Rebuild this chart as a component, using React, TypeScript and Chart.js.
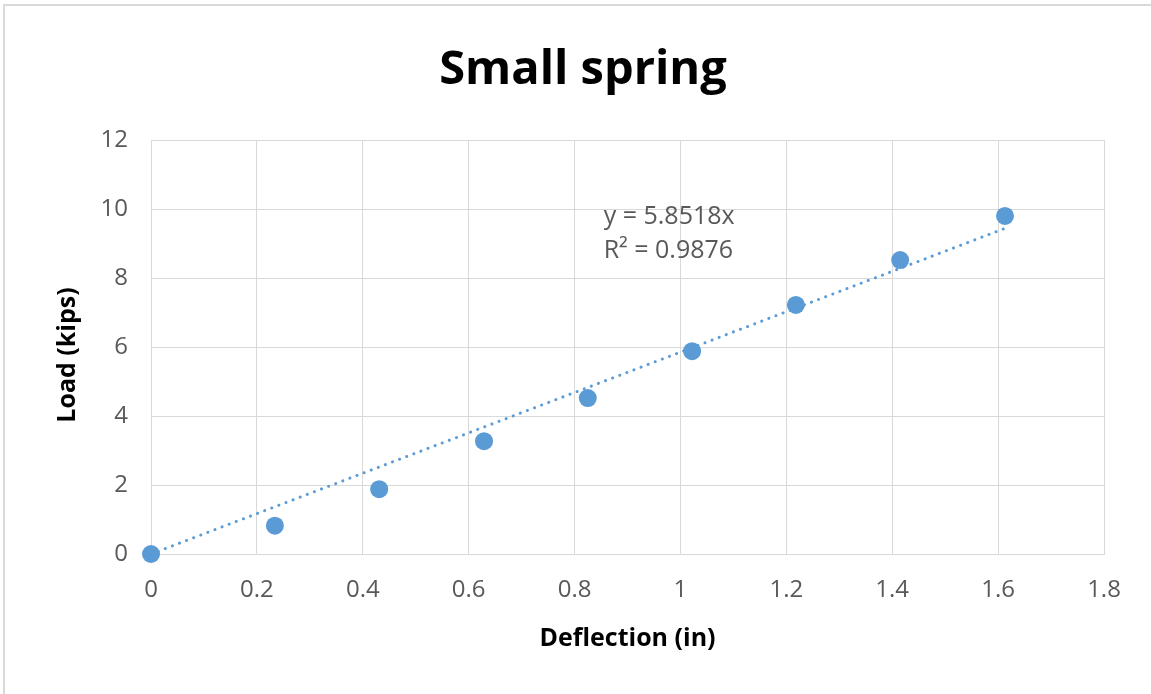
import React, { useEffect, useRef } from "react";
import { Chart, registerables } from "chart.js";
Chart.register(...registerables);

const chartTitle = "Small spring";
const xAxisTitle = "Deflection (in)";
const yAxisTitle = "Load (kips)";
const deflection = [0, 0.234, 0.431, 0.629, 0.825, 1.022, 1.218, 1.415, 1.613];
const load = [0, 0.82, 1.88, 3.27, 4.52, 5.88, 7.22, 8.52, 9.8];
const trendSlope = 5.8518;
const rSquared = 0.9876;
const equationLabel = "y = 5.8518x";
const rSquaredLabel = "R² = 0.9876";
const xRange = [0, 1.8];
const yRange = [0, 12];

const BLUE = "#5b9bd5";
const GREY_TEXT = "#595959";
const GRID = "#d9d9d9";

export default function App() {
  const ref = useRef<HTMLCanvasElement>(null);

  useEffect(() => {
    document.body.style.margin = "0";
    const xMax = Math.max(...deflection);

    const textPlugin = {
      id: "texts",
      afterDraw(chart: any) {
        const { ctx, chartArea, scales } = chart;
        ctx.save();
        ctx.fillStyle = "#000";
        ctx.textAlign = "center";
        ctx.textBaseline = "middle";
        ctx.font = "bold 47px 'Open Sans'";
        ctx.fillText(chartTitle, 583, 71);

        ctx.font = "bold 25px 'Open Sans'";
        ctx.fillText(xAxisTitle, (chartArea.left + chartArea.right) / 2, 639);
        ctx.save();
        ctx.translate(68, 355);
        ctx.rotate(-Math.PI / 2);
        ctx.fillText(yAxisTitle, 0, 0);
        ctx.restore();

        ctx.fillStyle = GREY_TEXT;
        ctx.font = "25px 'Open Sans'";
        ctx.textAlign = "left";
        const tx = scales.x.getPixelForValue(0.855);
        ctx.fillText(equationLabel, tx, scales.y.getPixelForValue(9.78));
        ctx.fillText(rSquaredLabel, tx, scales.y.getPixelForValue(8.78));
        ctx.restore();
      },
    };

    const chart = new Chart(ref.current as HTMLCanvasElement, {
      type: "scatter",
      data: {
        datasets: [
          {
            label: "Load",
            data: deflection.map((x, i) => ({ x, y: load[i] })),
            backgroundColor: BLUE,
            borderColor: BLUE,
            pointRadius: 9,
            pointBorderWidth: 0,
            clip: false,
            order: 1,
          } as any,
          {
            label: `Linear (R² = ${rSquared})`,
            type: "line",
            data: [
              { x: 0, y: 0 },
              { x: xMax, y: trendSlope * xMax },
            ],
            borderColor: BLUE,
            borderWidth: 3,
            borderDash: [0.1, 7.5],
            borderCapStyle: "round",
            pointRadius: 0,
            fill: false,
            clip: false,
            order: 2,
          } as any,
        ],
      },
      options: {
        responsive: false,
        animation: false,
        layout: { padding: { top: 140, right: 47, left: 0, bottom: 0 } },
        plugins: {
          legend: { display: false },
          tooltip: { enabled: false },
          title: { display: false },
        },
        scales: {
          x: {
            type: "linear",
            min: xRange[0],
            max: xRange[1],
            ticks: {
              stepSize: 0.2,
              padding: 22,
              color: GREY_TEXT,
              font: { family: "'Open Sans'", size: 24 },
              maxRotation: 0,
              callback: (v: any) => String(Math.round(Number(v) * 10) / 10),
            },
            grid: { color: GRID, lineWidth: 1, drawTicks: false },
            border: { color: GRID, width: 1 },
            afterFit(s: any) {
              s.height = 140;
            },
          },
          y: {
            type: "linear",
            min: yRange[0],
            max: yRange[1],
            ticks: {
              stepSize: 2,
              padding: 23,
              color: GREY_TEXT,
              font: { family: "'Open Sans'", size: 24 },
            },
            grid: { color: GRID, lineWidth: 1, drawTicks: false },
            border: { color: GRID, width: 1 },
            afterFit(s: any) {
              s.width = 151;
            },
          },
        },
      },
      plugins: [textPlugin],
    });
    return () => chart.destroy();
  }, []);

  return (
    <div style={{ position: "absolute", left: 0, top: 0, width: 1151, height: 694, background: "#fff", overflow: "hidden" }}>
      <div
        style={{
          position: "absolute",
          left: 3,
          top: 4,
          width: 1160,
          height: 700,
          borderLeft: "2px solid #d9d9d9",
          borderTop: "2px solid #d9d9d9",
        }}
      />
      <canvas ref={ref} width={1151} height={694} style={{ position: "absolute", left: 0, top: 0 }} />
    </div>
  );
}
